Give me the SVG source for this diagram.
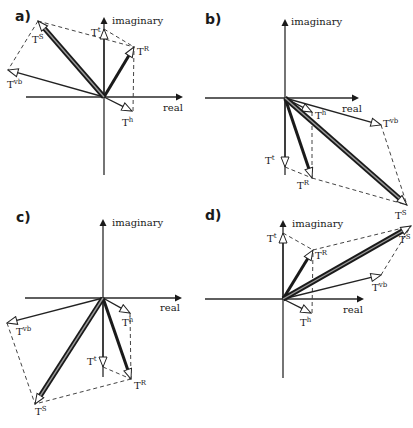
<svg xmlns="http://www.w3.org/2000/svg" width="413" height="428" viewBox="0 0 413 428">
<style>
.ax{stroke:#2a2a2a;stroke-width:1.3;fill:none}
.ah{fill:#1a1a1a}
.v{stroke:#222;stroke-width:1.3;fill:none;marker-end:url(#h)}
.vr{stroke:#1a1a1a;stroke-width:3;fill:none;marker-end:url(#h)}
.vs{stroke:#1a1a1a;stroke-width:5;fill:none;marker-end:url(#h)}
.vsi{stroke:#9a9a9a;stroke-width:1.4;fill:none}
.d{stroke:#444;stroke-width:1;stroke-dasharray:4,3;fill:none}
text{font-family:"DejaVu Serif","Liberation Serif",serif;fill:#1a1a1a}
.lb{font-size:10px}
.ax-t{font-size:10px}
.sup{font-size:7px}
.pl{font-family:"DejaVu Sans","Liberation Sans",sans-serif;font-size:14px;font-weight:bold}
</style>
<defs>
<marker id="h" viewBox="-4 -5 12 10" refX="0" refY="0" markerWidth="12" markerHeight="10" orient="auto" markerUnits="userSpaceOnUse">
<path d="M7,0 L-3,-4 L-3,4 Z" fill="#fff" stroke="#222" stroke-width="1"/>
</marker>
</defs>
<rect width="413" height="428" fill="#fff"/>

<!-- Panel a -->
<g id="panel-a">
<text class="pl" x="15" y="21">a)</text>
<g id="a-axes">
<line class="ax" x1="26" y1="97" x2="178" y2="97"/>
<polygon class="ah" points="183,97 176,93.5 176,100.5"/>
<line class="ax" x1="104" y1="22" x2="104" y2="175"/>
<polygon class="ah" points="104,17 100.5,24 107.5,24"/>
<text class="ax-t" x="112" y="24">imaginary</text>
<text class="ax-t" x="163" y="111">real</text>
</g>
<g id="a-connectors">
<line class="d" x1="38" y1="21" x2="134" y2="47"/>
<line class="d" x1="38" y1="21" x2="8" y2="70"/>
<line class="d" x1="104" y1="29" x2="134" y2="47"/>
<line class="d" x1="133" y1="111" x2="134" y2="47"/>
</g>
<g id="a-Tt"><line class="v" x1="104" y1="97" x2="104" y2="36"/><text class="lb" x="91" y="36">T<tspan class="sup" dy="-4">t</tspan></text></g>
<g id="a-TR"><line class="vr" x1="104" y1="97" x2="130.4" y2="53"/><text class="lb" x="137" y="55">T<tspan class="sup" dy="-4">R</tspan></text></g>
<g id="a-Th"><line class="v" x1="104" y1="97" x2="125.7" y2="107.9"/><text class="lb" x="122" y="126">T<tspan class="sup" dy="-4">h</tspan></text></g>
<g id="a-Tvb"><line class="v" x1="104" y1="97" x2="14.7" y2="71.9"/><text class="lb" x="7" y="88">T<tspan class="sup" dy="-4">vb</tspan></text></g>
<g id="a-TS"><line class="vs" x1="104" y1="97" x2="42.6" y2="26.3"/><line class="vsi" x1="104" y1="97" x2="44.5" y2="28.5"/><text class="lb" x="32" y="43">T<tspan class="sup" dy="-4">S</tspan></text></g>
</g>

<!-- Panel b -->
<g id="panel-b">
<text class="pl" x="205" y="24">b)</text>
<g id="b-axes">
<line class="ax" x1="205" y1="98" x2="354" y2="98"/>
<polygon class="ah" points="359,98 352,94.5 352,101.5"/>
<line class="ax" x1="285" y1="24" x2="285" y2="175"/>
<polygon class="ah" points="285,19 281.5,26 288.5,26"/>
<text class="ax-t" x="291" y="25">imaginary</text>
<text class="ax-t" x="342" y="112">real</text>
</g>
<g id="b-connectors">
<line class="d" x1="381" y1="125" x2="407" y2="205"/>
<line class="d" x1="312" y1="178" x2="407" y2="205"/>
<line class="d" x1="285" y1="167" x2="312" y2="178"/>
<line class="d" x1="312" y1="112" x2="312" y2="178"/>
</g>
<g id="b-Tt"><line class="v" x1="285" y1="98" x2="285" y2="160"/><text class="lb" x="265" y="164">T<tspan class="sup" dy="-4">t</tspan></text></g>
<g id="b-Th"><line class="v" x1="285" y1="98" x2="305.8" y2="108.8"/><text class="lb" x="315" y="119">T<tspan class="sup" dy="-4">h</tspan></text></g>
<g id="b-Tvb"><line class="v" x1="285" y1="98" x2="374.3" y2="123.1"/><text class="lb" x="383" y="127">T<tspan class="sup" dy="-4">vb</tspan></text></g>
<g id="b-TR"><line class="vr" x1="285" y1="98" x2="309.8" y2="171.4"/><text class="lb" x="297" y="189">T<tspan class="sup" dy="-4">R</tspan></text></g>
<g id="b-TS"><line class="vs" x1="285" y1="98" x2="401.7" y2="200.4"/><line class="vsi" x1="285" y1="98" x2="399.5" y2="198.4"/><text class="lb" x="395" y="219">T<tspan class="sup" dy="-4">S</tspan></text></g>
</g>

<!-- Panel c -->
<g id="panel-c">
<text class="pl" x="16" y="222">c)</text>
<g id="c-axes">
<line class="ax" x1="25" y1="298" x2="177" y2="298"/>
<polygon class="ah" points="182,298 175,294.5 175,301.5"/>
<line class="ax" x1="103" y1="224" x2="103" y2="377"/>
<polygon class="ah" points="103,219 99.5,226 106.5,226"/>
<text class="ax-t" x="112" y="226">imaginary</text>
<text class="ax-t" x="160" y="311">real</text>
</g>
<g id="c-connectors">
<line class="d" x1="7" y1="323" x2="35" y2="404"/>
<line class="d" x1="131" y1="379" x2="35" y2="404"/>
<line class="d" x1="103" y1="367" x2="131" y2="379"/>
<line class="d" x1="130" y1="313" x2="131" y2="379"/>
</g>
<g id="c-Th"><line class="v" x1="103" y1="298" x2="123.9" y2="309.6"/><text class="lb" x="122" y="326">T<tspan class="sup" dy="-4">h</tspan></text></g>
<g id="c-Tt"><line class="v" x1="103" y1="298" x2="103" y2="360"/><text class="lb" x="87" y="365">T<tspan class="sup" dy="-4">t</tspan></text></g>
<g id="c-TR"><line class="vr" x1="103" y1="298" x2="128.7" y2="372.4"/><text class="lb" x="134" y="389">T<tspan class="sup" dy="-4">R</tspan></text></g>
<g id="c-Tvb"><line class="v" x1="103" y1="298" x2="13.8" y2="321.2"/><text class="lb" x="16" y="335">T<tspan class="sup" dy="-4">vb</tspan></text></g>
<g id="c-TS"><line class="vs" x1="103" y1="298" x2="38.8" y2="398.1"/><line class="vsi" x1="103" y1="298" x2="40.4" y2="395.6"/><text class="lb" x="35" y="415">T<tspan class="sup" dy="-4">S</tspan></text></g>
</g>

<!-- Panel d -->
<g id="panel-d">
<text class="pl" x="205" y="220">d)</text>
<g id="d-axes">
<line class="ax" x1="205" y1="299" x2="359" y2="299"/>
<polygon class="ah" points="364,299 357,295.5 357,302.5"/>
<line class="ax" x1="283" y1="225" x2="283" y2="378"/>
<polygon class="ah" points="283,220 279.5,227 286.5,227"/>
<text class="ax-t" x="292" y="227">imaginary</text>
<text class="ax-t" x="343" y="313">real</text>
</g>
<g id="d-connectors">
<line class="d" x1="313" y1="250" x2="411" y2="226"/>
<line class="d" x1="381" y1="275" x2="411" y2="226"/>
<line class="d" x1="283" y1="233" x2="313" y2="250"/>
<line class="d" x1="312" y1="313" x2="313" y2="250"/>
</g>
<g id="d-Tt"><line class="v" x1="283" y1="299" x2="283" y2="240"/><text class="lb" x="267" y="242">T<tspan class="sup" dy="-4">t</tspan></text></g>
<g id="d-TR"><line class="vr" x1="283" y1="299" x2="309.3" y2="256"/><text class="lb" x="315" y="259">T<tspan class="sup" dy="-4">R</tspan></text></g>
<g id="d-Th"><line class="v" x1="283" y1="299" x2="304.7" y2="309.9"/><text class="lb" x="300" y="326">T<tspan class="sup" dy="-4">h</tspan></text></g>
<g id="d-Tvb"><line class="v" x1="283" y1="299" x2="374.2" y2="276.7"/><text class="lb" x="372" y="291">T<tspan class="sup" dy="-4">vb</tspan></text></g>
<g id="d-TS"><line class="vs" x1="283" y1="299" x2="404.9" y2="229.5"/><line class="vsi" x1="283" y1="299" x2="402.3" y2="231"/><text class="lb" x="399" y="243">T<tspan class="sup" dy="-4">S</tspan></text></g>
</g>
</svg>
